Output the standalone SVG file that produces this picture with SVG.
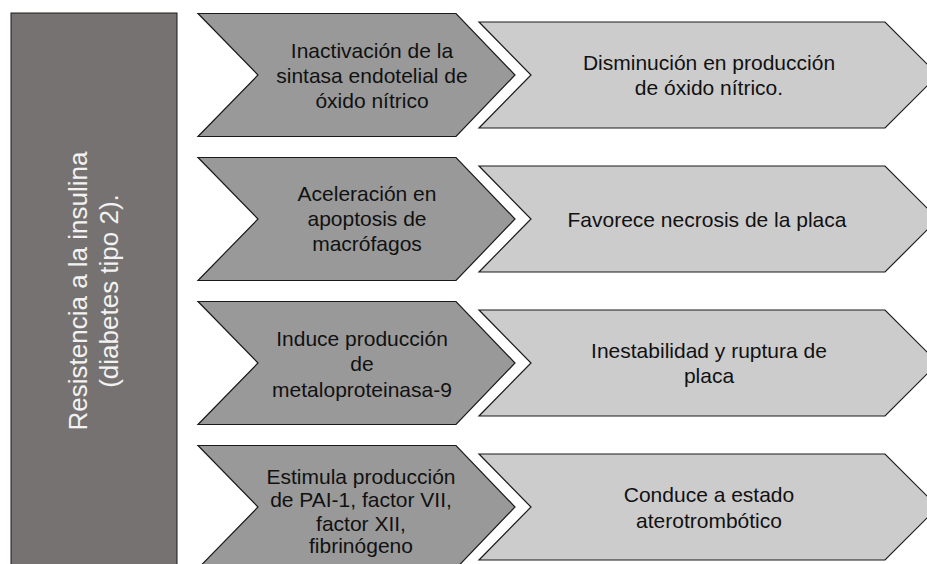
<svg xmlns="http://www.w3.org/2000/svg" width="927" height="564" viewBox="0 0 927 564">
<style>
.bg{fill:#ffffff}
.side{fill:#767271;stroke:#1a1a1a;stroke-width:1}
.dark{fill:#999999;stroke:#1a1a1a;stroke-width:1.2;stroke-linejoin:miter}
.light{fill:#cccccc;stroke:#1a1a1a;stroke-width:1.2;stroke-linejoin:miter}
.t{font-family:"Liberation Sans",Arial,Helvetica,sans-serif;font-size:21px;fill:#111111;text-anchor:middle}
.vt{font-family:"Liberation Sans",Arial,Helvetica,sans-serif;font-size:26px;fill:#f2f2f2;text-anchor:middle}
</style>
<rect class="bg" x="0" y="0" width="927" height="564"/>
<g id="connectors"></g>
<g id="node-resistencia">
<rect class="side" x="11" y="13" width="166" height="560"/>
<text class="vt" transform="translate(94,291) rotate(-90)"><tspan x="0" y="-7.5">Resistencia a la insulina</tspan><tspan x="0" y="23.5">(diabetes tipo 2).</tspan></text>
</g>
<g id="node-inactivacion">
<polygon class="dark" points="198,13.5 456,13.5 515,75 456,136.5 198,136.5 258,75"/>
<text class="t"><tspan x="372" y="58">Inactivación de la</tspan><tspan x="372" y="83">sintasa endotelial de</tspan><tspan x="372" y="108">óxido nítrico</tspan></text>
</g>
<g id="node-disminucion">
<polygon class="light" points="479,22 885,22 938,75 885,128 479,128 531,75"/>
<text class="t"><tspan x="709" y="69.5">Disminución en producción</tspan><tspan x="709" y="94.5">de óxido nítrico.</tspan></text>
</g>
<g id="node-aceleracion">
<polygon class="dark" points="198,157.5 456,157.5 515,219 456,280.5 198,280.5 258,219"/>
<text class="t"><tspan x="367" y="201">Aceleración en</tspan><tspan x="367" y="226">apoptosis de</tspan><tspan x="367" y="251">macrófagos</tspan></text>
</g>
<g id="node-necrosis">
<polygon class="light" points="479,166 885,166 938,219 885,272 479,272 531,219"/>
<text class="t"><tspan x="707" y="226.5">Favorece necrosis de la placa</tspan></text>
</g>
<g id="node-induce">
<polygon class="dark" points="198,301.5 456,301.5 515,363 456,424.5 198,424.5 258,363"/>
<text class="t"><tspan x="362" y="345.5">Induce producción</tspan><tspan x="362" y="371">de</tspan><tspan x="362" y="396.5">metaloproteinasa-9</tspan></text>
</g>
<g id="node-inestabilidad">
<polygon class="light" points="479,310 885,310 938,363 885,416 479,416 531,363"/>
<text class="t"><tspan x="709" y="357.5">Inestabilidad y ruptura de</tspan><tspan x="709" y="382.5">placa</tspan></text>
</g>
<g id="node-estimula">
<polygon class="dark" points="198,445.5 456,445.5 515,507 456,568.5 198,568.5 258,507"/>
<text class="t"><tspan x="361" y="483.5">Estimula producción</tspan><tspan x="361" y="507">de PAI-1, factor VII,</tspan><tspan x="361" y="530.5">factor XII,</tspan><tspan x="361" y="553">fibrinógeno</tspan></text>
</g>
<g id="node-conduce">
<polygon class="light" points="479,454 885,454 938,507 885,560 479,560 531,507"/>
<text class="t"><tspan x="709" y="502">Conduce a estado</tspan><tspan x="709" y="527.5">aterotrombótico</tspan></text>
</g>
</svg>
